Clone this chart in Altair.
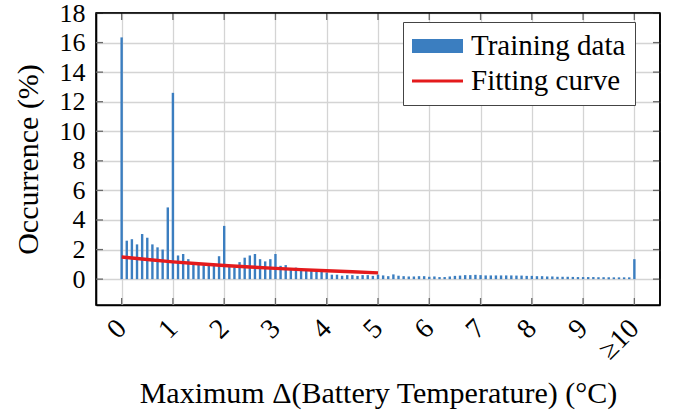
import altair as alt
import pandas as pd

# Bar x positions (0.0 .. 10.0 by 0.1) and occurrence values (%)
bar_x = [round(i * 0.1, 1) for i in range(101)]
bar_y = [16.35, 2.6, 2.7, 2.35, 3.05, 2.8, 2.35, 2.15, 2.0, 4.85,
         12.6, 1.6, 1.7, 1.35, 1.0, 1.0, 0.95, 0.9, 0.9, 1.55,
         3.6, 0.85, 0.8, 1.15, 1.45, 1.6, 1.7, 1.35, 1.2, 1.35,
         1.7, 0.9, 0.95, 0.72, 0.78, 0.75, 0.55, 0.55, 0.5, 0.5,
         0.45, 0.3, 0.3, 0.23, 0.27, 0.27, 0.22, 0.27, 0.27, 0.22,
         0.3, 0.25, 0.2, 0.32, 0.23, 0.2, 0.18, 0.18, 0.2, 0.2,
         0.16, 0.18, 0.14, 0.14, 0.18, 0.22, 0.24, 0.27, 0.27, 0.29,
         0.27, 0.25, 0.25, 0.25, 0.25, 0.25, 0.25, 0.24, 0.24, 0.22,
         0.22, 0.2, 0.2, 0.18, 0.18, 0.16, 0.16, 0.16, 0.15, 0.14,
         0.14, 0.14, 0.14, 0.13, 0.13, 0.12, 0.12, 0.12, 0.12, 0.12,
         1.35]

# Fitting curve points
curve_x = [0, 0.5, 1, 1.5, 2, 2.5, 3, 3.5, 4, 4.5, 5]
curve_y = [1.50, 1.33, 1.17, 1.04, 0.92, 0.82, 0.73, 0.64, 0.57, 0.50, 0.42]

x_ticks = list(range(11))
y_ticks = list(range(0, 19, 2))
series_names = ["Training data", "Fitting curve"]
series_colors = ["#3b7ec0", "#e41a1c"]

bars = pd.DataFrame({"x": bar_x, "y": bar_y, "series": series_names[0]})
curve = pd.DataFrame({"x": curve_x, "y": curve_y, "series": series_names[1]})
legend_df = pd.DataFrame({"series": series_names})
xt_df = pd.DataFrame({"x": x_ticks})
yt_df = pd.DataFrame({"y": y_ticks})
frame_df = pd.DataFrame({"k": [0]})

FONT = "Liberation Serif"
W, H = 564, 292
TICK = 7
TICK_COLOR = "#6a6a6a"

xscale = alt.Scale(domain=[-0.5, 10.5], nice=False, zero=False, padding=0)
yscale = alt.Scale(domain=[-1.75, 18], nice=False, zero=False, padding=0)

rect_path = "M-1,-0.47H2.4V0.47H-1Z"
line_path = "M-1,-0.1H2.4V0.1H-1Z"

legend = alt.Legend(
    title=None, orient="none", legendX=307, legendY=9,
    symbolSize=900, symbolOpacity=1, symbolStrokeWidth=0,
    labelFont=FONT, labelFontSize=29, labelLimit=0, labelColor="black",
    strokeColor="#444444", fillColor="white",
    padding=9, rowPadding=5, labelOffset=29,
)

color = alt.Color(
    "series:N",
    scale=alt.Scale(domain=series_names, range=series_colors),
    sort=series_names,
    legend=legend,
)
shape = alt.Shape(
    "series:N",
    scale=alt.Scale(domain=series_names, range=[rect_path, line_path]),
    sort=series_names,
    legend=legend,
)

xaxis = alt.Axis(
    values=x_ticks, labelExpr="datum.value == 10 ? '≥10' : datum.label",
    title="Maximum Δ(Battery Temperature) (°C)",
    labelAngle=-45, labelAlign="right", labelBaseline="middle",
    labelFont=FONT, labelFontSize=28, labelColor="black", labelPadding=19,
    labelOverlap=False,
    titleFont=FONT, titleFontSize=30, titleFontWeight="normal", titleColor="black",
    titlePadding=14,
    grid=True, gridColor="#d4d4d4", gridWidth=1.3,
    ticks=False, domain=True, domainColor="black", domainWidth=1.6,
)
yaxis = alt.Axis(
    values=y_ticks, title="Occurrence (%)",
    labelFont=FONT, labelFontSize=26, labelColor="black", labelPadding=11,
    labelOverlap=False,
    titleFont=FONT, titleFontSize=30, titleFontWeight="normal", titleColor="black",
    titlePadding=16,
    grid=True, gridColor="#d4d4d4", gridWidth=1.3,
    ticks=False, domain=True, domainColor="black", domainWidth=1.6,
)

bar_layer = alt.Chart(bars).mark_bar(size=2.4, opacity=1).encode(
    x=alt.X("x:Q", scale=xscale, axis=xaxis),
    y=alt.Y("y:Q", scale=yscale, axis=yaxis),
    color=color,
)

line_layer = alt.Chart(curve).mark_line(strokeWidth=3.4).encode(
    x=alt.X("x:Q", scale=xscale, axis=xaxis),
    y=alt.Y("y:Q", scale=yscale, axis=yaxis),
    color=color,
)

legend_layer = alt.Chart(legend_df).mark_point(filled=True, opacity=0, size=900).encode(
    color=color,
    shape=shape,
)

# inward tick marks (pgfplots style) on all four sides
xt_bottom = alt.Chart(xt_df).mark_rule(color=TICK_COLOR, strokeWidth=1.3).encode(
    x=alt.X("x:Q", scale=xscale, axis=xaxis), y=alt.value(H - TICK), y2=alt.value(H))
xt_top = alt.Chart(xt_df).mark_rule(color=TICK_COLOR, strokeWidth=1.3).encode(
    x=alt.X("x:Q", scale=xscale, axis=xaxis), y=alt.value(0), y2=alt.value(TICK))
yt_left = alt.Chart(yt_df).mark_rule(color=TICK_COLOR, strokeWidth=1.3).encode(
    y=alt.Y("y:Q", scale=yscale, axis=yaxis), x=alt.value(0), x2=alt.value(TICK))
yt_right = alt.Chart(yt_df).mark_rule(color=TICK_COLOR, strokeWidth=1.3).encode(
    y=alt.Y("y:Q", scale=yscale, axis=yaxis), x=alt.value(W - TICK), x2=alt.value(W))

# top and right frame edges
frame_top = alt.Chart(frame_df).mark_rule(color="black", strokeWidth=1.6).encode(
    x=alt.value(0), x2=alt.value(W), y=alt.value(0))
frame_right = alt.Chart(frame_df).mark_rule(color="black", strokeWidth=1.6).encode(
    x=alt.value(W), y=alt.value(0), y2=alt.value(H))

chart = alt.layer(
    bar_layer, line_layer, xt_bottom, xt_top, yt_left, yt_right,
    frame_top, frame_right, legend_layer
).properties(
    width=W, height=H,
    autosize=alt.AutoSizeParams(type="none"),
    padding={"left": 96, "top": 13, "right": 13, "bottom": 109},
    background="white",
).configure_view(stroke="black", strokeWidth=1.6)

chart.save("out.html", embed_options={"renderer": "svg", "actions": False})
